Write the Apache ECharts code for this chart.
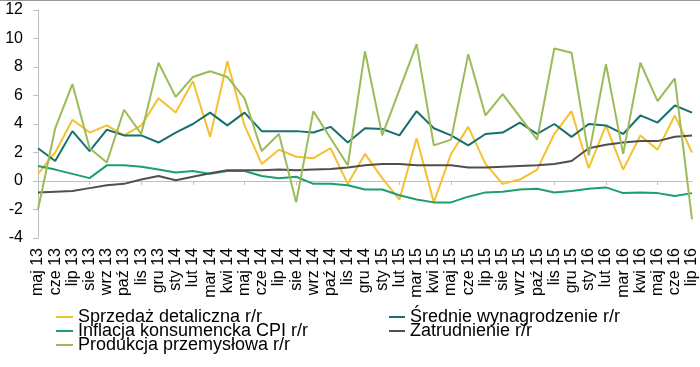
<!DOCTYPE html>
<html>
<head>
<meta charset="utf-8">
<script src="https://cdn.jsdelivr.net/npm/echarts@6/dist/echarts.min.js"></script>
<style>html,body{margin:0;padding:0;background:#fff}#c{width:700px;height:367px}</style>
</head>
<body>
<div id="c"></div>
<script>
const categories = ['maj 13','cze 13','lip 13','sie 13','wrz 13','paź 13','lis 13','gru 13',
  'sty 14','lut 14','mar 14','kwi 14','maj 14','cze 14','lip 14','sie 14','wrz 14','paź 14','lis 14','gru 14',
  'sty 15','lut 15','mar 15','kwi 15','maj 15','cze 15','lip 15','sie 15','wrz 15','paź 15','lis 15','gru 15',
  'sty 16','lut 16','mar 16','kwi 16','maj 16','cze 16','lip 16'];
const sprzedaz = [0.5,2.0,4.3,3.4,3.9,3.2,3.9,5.8,4.8,7.0,3.1,8.4,3.9,1.2,2.2,1.7,1.6,2.3,-0.2,1.9,
  0.2,-1.3,3.0,-1.5,1.9,3.8,1.2,-0.2,0.1,0.8,3.3,4.9,0.9,3.9,0.8,3.2,2.2,4.6,2.0];
const wynagrodzenie = [2.3,1.4,3.5,2.1,3.6,3.2,3.2,2.7,3.4,4.0,4.8,3.9,4.8,3.5,3.5,3.5,3.4,3.8,2.7,3.7,
  3.65,3.2,4.9,3.7,3.2,2.5,3.3,3.4,4.1,3.3,4.0,3.1,4.0,3.9,3.3,4.6,4.1,5.3,4.8];
const inflacja = [1.05,0.8,0.5,0.2,1.1,1.1,1.0,0.8,0.6,0.7,0.5,0.7,0.7,0.35,0.2,0.3,-0.2,-0.2,-0.3,-0.6,
  -0.6,-1.0,-1.3,-1.5,-1.5,-1.1,-0.8,-0.75,-0.6,-0.55,-0.8,-0.7,-0.55,-0.45,-0.85,-0.8,-0.85,-1.05,-0.85];
const zatrudnienie = [-0.8,-0.75,-0.7,-0.5,-0.3,-0.2,0.1,0.35,0.05,0.3,0.55,0.75,0.75,0.75,0.8,0.75,0.8,0.85,0.95,1.1,
  1.2,1.2,1.1,1.1,1.1,0.95,0.95,1.0,1.05,1.1,1.2,1.4,2.3,2.55,2.7,2.8,2.8,3.1,3.2];
const produkcja = [-2.0,3.7,6.8,2.3,1.3,5.0,3.3,8.3,5.9,7.3,7.7,7.3,5.8,2.1,3.3,-1.5,4.9,3.0,1.1,9.1,
  3.2,6.4,9.6,2.5,2.9,8.9,4.6,6.1,4.5,2.9,9.3,9.0,1.8,8.2,1.9,8.3,5.6,7.2,-2.7];
const yTicks = {min: -4, max: 12, interval: 2};

const names = ['Sprzedaż detaliczna r/r','Średnie wynagrodzenie r/r','Inflacja konsumencka CPI r/r','Zatrudnienie r/r','Produkcja przemysłowa r/r'];
const colors = ['#F5C12E','#17706C','#1E9E6C','#4F4F4F','#9BBB59'];
const dataSets = [sprzedaz, wynagrodzenie, inflacja, zatrudnienie, produkcja];
const font = 'Liberation Sans, Arial, sans-serif';

// legend slots: [name index, left, top, icon width]
const legendSlots = [[0, 56, 308, 17], [2, 56, 322, 17], [4, 56, 336, 17], [1, 389, 308, 16], [3, 389, 322, 16]];

const chart = echarts.init(document.getElementById('c'));
chart.setOption({
  animation: false,
  backgroundColor: '#fff',
  color: colors,
  graphic: [{type: 'line', shape: {x1: 0, y1: 0.5, x2: 700, y2: 0.5}, style: {stroke: '#9a9a9a', lineWidth: 1}}],
  grid: {left: 38, right: 8, top: 10, bottom: 129, containLabel: false},
  legend: legendSlots.map(s => ({
    left: s[1], top: s[2], padding: 0, icon: 'rect', itemWidth: s[3], itemHeight: 2,
    data: [names[s[0]]],
    textStyle: {fontFamily: font, fontSize: 18, color: '#000'}
  })),
  xAxis: [
    {type: 'category', data: categories, boundaryGap: false, position: 'bottom',
     axisLine: {onZero: true, lineStyle: {color: '#BFBFBF', width: 1}},
     axisTick: {show: true, length: 4, lineStyle: {color: '#BFBFBF'}},
     axisLabel: {show: false}, splitLine: {show: false}},
    {type: 'category', data: categories, boundaryGap: false, position: 'bottom',
     axisLine: {show: false, onZero: false}, axisTick: {show: false},
     axisLabel: {rotate: 90, interval: 0, margin: 10, fontFamily: font, fontSize: 16, color: '#000'},
     splitLine: {show: false}}
  ],
  yAxis: {type: 'value', min: yTicks.min, max: yTicks.max, interval: yTicks.interval,
    axisLine: {show: true, lineStyle: {color: '#BFBFBF'}},
    axisTick: {show: true, length: 5, lineStyle: {color: '#BFBFBF'}},
    axisLabel: {margin: 15, fontFamily: font, fontSize: 16, color: '#000'},
    splitLine: {show: false}},
  series: names.map((n, i) => ({
    name: n, type: 'line', data: dataSets[i], symbol: 'none', showSymbol: false,
    lineStyle: {width: 2, color: colors[i]}, itemStyle: {color: colors[i]}, z: 2
  }))
});
</script>
</body>
</html>
